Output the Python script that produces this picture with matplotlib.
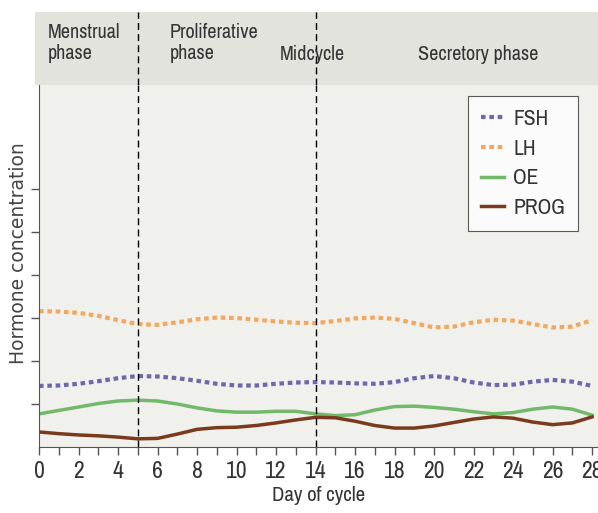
import matplotlib.pyplot as plt
from matplotlib.ticker import MultipleLocator
from matplotlib import font_manager

days = list(range(29))
fsh = [1.42, 1.43, 1.47, 1.53, 1.60, 1.65, 1.64, 1.60, 1.54, 1.47, 1.43, 1.43, 1.47, 1.50, 1.51,
       1.50, 1.48, 1.47, 1.51, 1.60, 1.65, 1.60, 1.50, 1.44, 1.45, 1.52, 1.56, 1.52, 1.42]
lh = [3.16, 3.15, 3.12, 3.05, 2.95, 2.86, 2.84, 2.90, 2.97, 3.01, 3.00, 2.96, 2.92, 2.89, 2.88,
      2.93, 2.99, 3.01, 2.98, 2.88, 2.78, 2.80, 2.90, 2.96, 2.94, 2.86, 2.78, 2.80, 2.95]
oe = [0.77, 0.85, 0.93, 1.01, 1.07, 1.09, 1.07, 1.00, 0.91, 0.84, 0.81, 0.81, 0.83, 0.83, 0.77,
      0.73, 0.75, 0.86, 0.94, 0.95, 0.92, 0.88, 0.82, 0.77, 0.80, 0.88, 0.93, 0.88, 0.74]
prog = [0.35, 0.31, 0.28, 0.26, 0.23, 0.19, 0.20, 0.30, 0.41, 0.45, 0.46, 0.50, 0.56, 0.63, 0.69,
        0.68, 0.60, 0.50, 0.44, 0.44, 0.49, 0.57, 0.65, 0.70, 0.67, 0.58, 0.52, 0.56, 0.70]
phase_lines = [5, 14]
phases = [("Menstrual\nphase", 0.45), ("Proliferative\nphase", 6.6),
          ("Midcycle", 12.2), ("Secretory phase", 19.2)]

# look for a condensed face among the installed fonts
names = sorted({f.name for f in font_manager.fontManager.ttflist})
cond = [n for n in names if "Narrow" in n or "Condensed" in n]
narrow_fam = cond[0] if cond else "DejaVu Sans"
txt = "#333333"


def fp(size):
    if cond:
        return font_manager.FontProperties(family=narrow_fam, size=size)
    return font_manager.FontProperties(family="DejaVu Sans", stretch="condensed", size=size)


W, H = 598, 513
fig = plt.figure(figsize=(W / 100, H / 100), dpi=100)
fig.patch.set_facecolor("white")

x0, x1 = 39, 598
xmax = 28.3
ax = fig.add_axes([x0 / W, (H - 447) / H, (x1 - x0) / W, (447 - 85) / H])
ax.set_facecolor("#f0f0ec")

ax.plot(days, fsh, color="#6d69a8", lw=3, ls=(0, (1.1, 0.9)), label="FSH")
ax.plot(days, lh, color="#f2a85e", lw=3, ls=(0, (1.1, 0.9)), label="LH")
ax.plot(days, oe, color="#72b96c", lw=2.5, label="OE")
ax.plot(days, prog, color="#7a3a1e", lw=2.5, label="PROG")
for d in phase_lines:
    ax.axvline(d, color="black", lw=1, ls=(0, (5, 3)))

ax.set_xlim(0, xmax)
ax.set_ylim(0, (447 - 85) / 43)
ax.xaxis.set_major_locator(MultipleLocator(2))
ax.xaxis.set_minor_locator(MultipleLocator(1))
ax.set_yticks([1, 2, 3, 4, 5, 6])
ax.set_yticklabels([])
ax.tick_params(axis="both", which="both", direction="out", length=6, color="#555555", width=1)
ax.tick_params(axis="x", labelcolor=txt, pad=4)
for lab in ax.get_xticklabels():
    lab.set_fontproperties(fp(17))
for s in ["top", "right"]:
    ax.spines[s].set_visible(False)
for s in ["left", "bottom"]:
    ax.spines[s].set_color("#555555")

ax.set_xlabel("Day of cycle", fontproperties=fp(15), color=txt, labelpad=3)
fig.text(19 / W, 1 - 253 / H, "Hormone concentration", rotation=90, fontsize=13.5,
         color="#444444", ha="center", va="center")

leg = ax.legend(loc="upper right", bbox_to_anchor=((578 - x0) / (x1 - x0), (447 - 96) / 362),
                borderaxespad=0, frameon=True, fancybox=False, handlelength=1.05,
                handletextpad=0.45, borderpad=0.6, labelspacing=0.45, prop=fp(15.5))
leg.get_frame().set_edgecolor("#333333")
leg.get_frame().set_linewidth(0.8)
leg.get_frame().set_facecolor("white")
for t in leg.get_texts():
    t.set_color(txt)

hx0 = 35
hax = fig.add_axes([hx0 / W, (H - 85) / H, (x1 - hx0) / W, (85 - 12) / H])
hax.set_facecolor("#e3e3dd")
hax.set_xlim(-(x0 - hx0) / 19.75, xmax)
hax.set_ylim(0, 1)
hax.set_xticks([])
hax.set_yticks([])
for s in hax.spines.values():
    s.set_visible(False)
for d in phase_lines:
    hax.axvline(d, color="black", lw=1, ls=(0, (5, 3)))
for label, xd in phases:
    y = 0.58 if "\n" in label else 0.42
    hax.text(xd, y, label, fontproperties=fp(14.5), color=txt, ha="left", va="center",
             linespacing=1.15)

fig.savefig("out.png", dpi=100)
